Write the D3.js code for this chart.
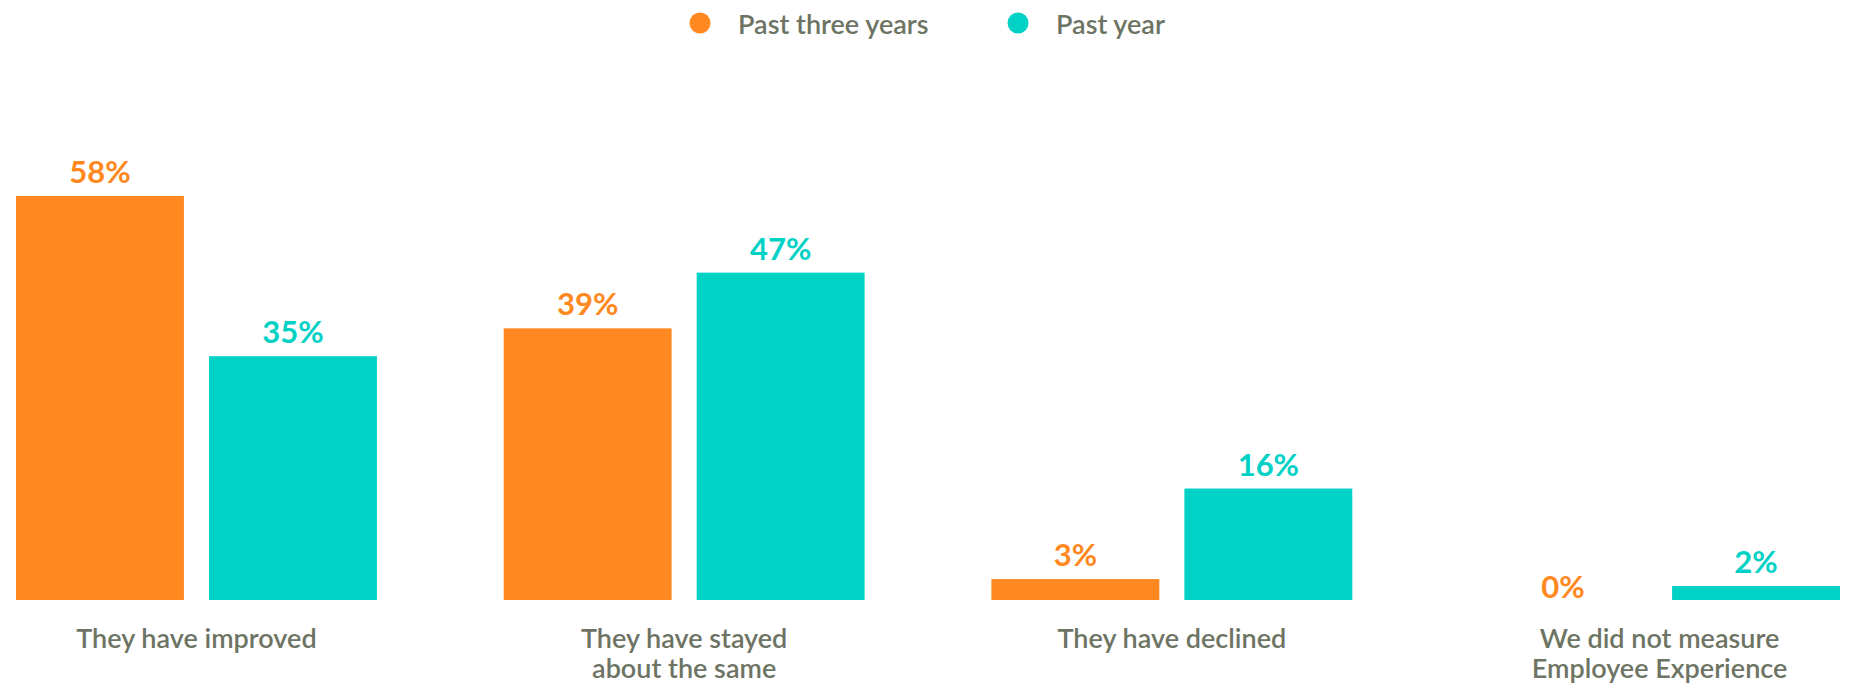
<!DOCTYPE html>
<html>
<head>
<meta charset="utf-8">
<script src="https://cdn.jsdelivr.net/npm/d3@7"></script>
<style>
  html, body { margin: 0; padding: 0; background: #ffffff; }
  svg { display: block; font-family: Lato, "Noto Sans", sans-serif; }
</style>
</head>
<body>
<svg id="chart" width="1849" height="684"></svg>
<script>
// Survey answers, one group per category
const categories = [
  ["They have improved"],
  ["They have stayed", "about the same"],
  ["They have declined"],
  ["We did not measure", "Employee Experience"]
];
const seriesNames = ["Past three years", "Past year"];
const pastThreeYears = [58, 39, 3, 0];
const pastYear = [35, 47, 16, 2];

const colors = { "Past three years": "#FF8820", "Past year": "#02D1C5" };
const textColor = "#6D7464";

const svg = d3.select("#chart");
const baseY = 600;

const x0 = d3.scaleBand()
  .domain(d3.range(categories.length))
  .range([16, 1840])
  .paddingInner(0.26)
  .paddingOuter(0);

const x1 = d3.scaleBand()
  .domain(seriesNames)
  .range([0, x0.bandwidth()])
  .paddingInner(0.13);

const y = d3.scaleLinear()
  .domain([0, 58])
  .range([baseY, 196]);

const rows = categories.map((c, i) => ({
  i,
  values: [
    { key: seriesNames[0], value: pastThreeYears[i] },
    { key: seriesNames[1], value: pastYear[i] }
  ]
}));

const groups = svg.append("g").selectAll("g")
  .data(rows)
  .join("g")
  .attr("transform", d => `translate(${x0(d.i)},0)`);

groups.selectAll("rect")
  .data(d => d.values)
  .join("rect")
  .attr("x", d => x1(d.key))
  .attr("y", d => y(d.value))
  .attr("width", x1.bandwidth())
  .attr("height", d => baseY - y(d.value))
  .attr("fill", d => colors[d.key]);

// Value labels; an empty bar keeps its label down at the baseline
groups.selectAll("text.value")
  .data(d => d.values)
  .join("text")
  .attr("class", "value")
  .attr("x", d => x1(d.key) + x1.bandwidth() / 2)
  .attr("y", d => d.value === 0 ? baseY - 2 : y(d.value) - 13)
  .attr("text-anchor", "middle")
  .attr("font-size", 31)
  .attr("font-weight", 700)
  .attr("fill", d => colors[d.key])
  .text(d => d.value + "%");

// Category labels below the bars
const catLabels = svg.append("g").selectAll("text")
  .data(categories)
  .join("text")
  .attr("x", (d, i) => x0(i) + x0.bandwidth() / 2)
  .attr("y", 648)
  .attr("text-anchor", "middle")
  .attr("font-size", 27)
  .attr("font-weight", 600)
  .attr("fill", textColor);

catLabels.selectAll("tspan")
  .data(d => d)
  .join("tspan")
  .attr("x", function () { return d3.select(this.parentNode).attr("x"); })
  .attr("dy", (d, j) => j === 0 ? 0 : 30)
  .text(d => d);

// Legend
const legendX = [700, 1018];
const legend = svg.append("g").selectAll("g")
  .data(seriesNames)
  .join("g")
  .attr("transform", (d, i) => `translate(${legendX[i]},23)`);

legend.append("circle")
  .attr("r", 10.5)
  .attr("fill", d => colors[d]);

legend.append("text")
  .attr("x", 38)
  .attr("y", 11)
  .attr("font-size", 27)
  .attr("font-weight", 600)
  .attr("fill", textColor)
  .text(d => d);
</script>
</body>
</html>
